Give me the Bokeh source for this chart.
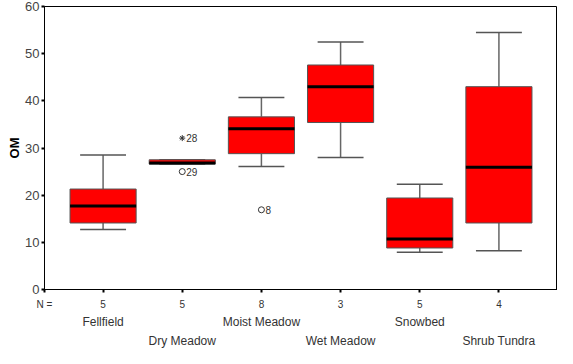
import numpy as np
from bokeh.plotting import figure
from bokeh.models import LinearAxis, FixedTicker, Range1d, ColumnDataSource
from bokeh.embed import file_html
from bokeh.resources import INLINE

categories = ["Fellfield", "Dry Meadow", "Moist Meadow", "Wet Meadow", "Snowbed", "Shrub Tundra"]
counts = [5, 5, 8, 3, 5, 4]
lower_whisker = [12.7, 26.6, 26.1, 28.0, 7.9, 8.2]
q1 = [14.1, 26.6, 28.8, 35.4, 8.8, 14.1]
median = [17.7, 26.8, 34.1, 43.0, 10.7, 25.9]
q3 = [21.3, 27.5, 36.6, 47.6, 19.4, 43.0]
upper_whisker = [28.5, 27.5, 40.7, 52.5, 22.3, 54.5]

outlier_cat = [1, 1, 2]
outlier_val = [32.1, 25.0, 16.9]
outlier_marker = ["asterisk", "circle", "circle"]
outlier_label = ["28", "29", "8"]

y_ticks = [0, 10, 20, 30, 40, 50, 60]
n_label = "N ="

FONT = "Liberation Sans"
BOX_W = 0.835
CAP_W = 0.58
X_START = -0.74

xs = np.arange(len(categories))

p = figure(width=557, height=350, output_backend="svg", toolbar_location=None,
           x_range=Range1d(X_START, len(categories) - 0.26), y_range=Range1d(0, 60),
           min_border_top=6, min_border_right=0, min_border_left=44, min_border_bottom=10,
           x_axis_location=None, y_axis_location=None)
p.xgrid.visible = False
p.ygrid.visible = False
p.outline_line_color = "black"
p.outline_line_width = 1
p.background_fill_color = "white"
p.border_fill_color = "white"

# y axis
yax = LinearAxis(ticker=FixedTicker(ticks=y_ticks), axis_label="OM")
yax.axis_line_color = "black"
yax.major_tick_out = 3
yax.major_tick_in = 0
yax.major_tick_line_color = "black"
yax.major_tick_line_width = 2
yax.minor_tick_line_color = None
yax.major_label_text_font = FONT
yax.major_label_text_font_size = "13px"
yax.major_label_text_color = "#444444"
yax.major_label_standoff = 2
yax.axis_label_text_font = "Liberation Sans"
yax.axis_label_text_font_style = "bold"
yax.axis_label_text_font_size = "13px"
yax.axis_label_text_color = "black"
yax.axis_label_standoff = 0
p.add_layout(yax, "left")

# counts axis (with the "N =" caption at the left edge)
count_ticks = [X_START] + [int(i) for i in xs]
count_labels = {X_START: n_label}
count_labels.update({int(i): str(c) for i, c in zip(xs, counts)})
cax = LinearAxis(ticker=FixedTicker(ticks=count_ticks), major_label_overrides=count_labels)
cax.axis_line_color = "black"
cax.major_tick_out = 3
cax.major_tick_in = 0
cax.major_tick_line_color = "black"
cax.major_tick_line_width = 2
cax.minor_tick_line_color = None
cax.major_label_text_font = FONT
cax.major_label_text_font_size = "10px"
cax.major_label_text_color = "#333333"
cax.major_label_standoff = 6
p.add_layout(cax, "below")

# category label rows
for start, standoff in ((0, -4), (1, -4)):
    ticks = [int(i) for i in xs[start::2]]
    ax = LinearAxis(ticker=FixedTicker(ticks=ticks),
                    major_label_overrides={i: categories[i] for i in ticks})
    ax.axis_line_color = None
    ax.major_tick_line_color = None
    ax.minor_tick_line_color = None
    ax.major_label_text_font = FONT
    ax.major_label_text_font_size = "12px"
    ax.major_label_text_color = "#333333"
    ax.major_label_standoff = standoff
    p.add_layout(ax, "below")

src = ColumnDataSource(dict(
    x=xs, q1=q1, q3=q3, med=median, lo=lower_whisker, hi=upper_whisker,
    x0=xs - BOX_W / 2, x1=xs + BOX_W / 2, c0=xs - CAP_W / 2, c1=xs + CAP_W / 2))

# whiskers
p.segment(x0="x", y0="q3", x1="x", y1="hi", source=src, line_color="#666666", line_width=1.5)
p.segment(x0="x", y0="q1", x1="x", y1="lo", source=src, line_color="#666666", line_width=1.5)
p.segment(x0="c0", y0="hi", x1="c1", y1="hi", source=src, line_color="#555555", line_width=1.5)
p.segment(x0="c0", y0="lo", x1="c1", y1="lo", source=src, line_color="#555555", line_width=1.5)

# boxes
p.vbar(x="x", width=BOX_W, bottom="q1", top="q3", source=src,
       fill_color="#ff0000", line_color="#555555", line_width=1)
p.segment(x0="x0", y0="med", x1="x1", y1="med", source=src, line_color="black", line_width=3)

# outliers
osrc = ColumnDataSource(dict(x=outlier_cat, y=outlier_val, m=outlier_marker, t=outlier_label))
p.scatter(x="x", y="y", marker="m", source=osrc, size=6, line_color="#333333",
          fill_color=None, line_width=1)
p.text(x="x", y="y", text="t", source=osrc, x_offset=4, text_baseline="middle",
       text_align="left", text_font_size="10px", text_color="#333333",
       text_font={"value": FONT})

open("out.html", "w").write(file_html(p, INLINE))
